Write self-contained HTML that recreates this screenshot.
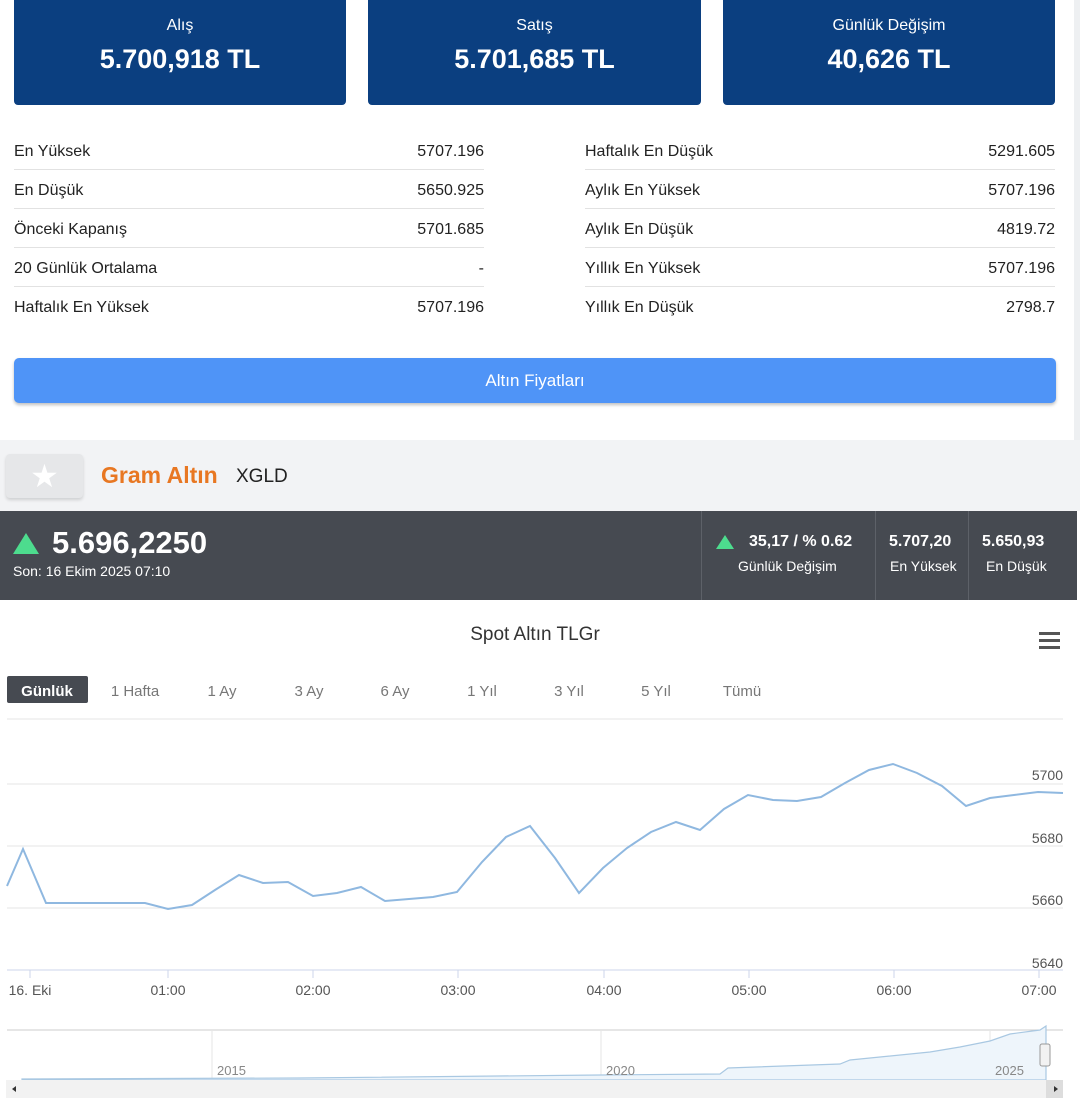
<!DOCTYPE html>
<html><head><meta charset="utf-8"><style>
*{margin:0;padding:0;box-sizing:border-box}
body{width:1080px;height:1109px;background:#fff;font-family:"Liberation Sans",sans-serif;position:relative;overflow:hidden;color:#222}
.card{position:absolute;top:0;height:105px;background:#0b3f80;border-radius:0 0 4px 4px;color:#fff;text-align:center}
.card .l{font-size:16px;margin-top:17px}
.card .v{font-size:27px;font-weight:bold;margin-top:9px}
.row{position:absolute;height:39px;font-size:16px;display:flex;justify-content:space-between;align-items:center;padding-top:3px;border-bottom:1px solid #e2e2e2}
.t{position:absolute;white-space:nowrap}
</style></head><body>
<div style="position:absolute;left:1074px;top:0;width:6px;height:440px;background:#eef0f2"></div>
<div class="card" style="left:14px;width:332px"><div class="l">Alış</div><div class="v">5.700,918 TL</div></div>
<div class="card" style="left:368px;width:333px"><div class="l">Satış</div><div class="v">5.701,685 TL</div></div>
<div class="card" style="left:723px;width:332px"><div class="l">Günlük Değişim</div><div class="v">40,626 TL</div></div>

<div class="row" style="left:14px;width:470px;top:131px"><span>En Yüksek</span><span>5707.196</span></div>
<div class="row" style="left:14px;width:470px;top:170px"><span>En Düşük</span><span>5650.925</span></div>
<div class="row" style="left:14px;width:470px;top:209px"><span>Önceki Kapanış</span><span>5701.685</span></div>
<div class="row" style="left:14px;width:470px;top:248px"><span>20 Günlük Ortalama</span><span>-</span></div>
<div class="row" style="left:14px;width:470px;top:287px;border:none"><span>Haftalık En Yüksek</span><span>5707.196</span></div>
<div class="row" style="left:585px;width:470px;top:131px"><span>Haftalık En Düşük</span><span>5291.605</span></div>
<div class="row" style="left:585px;width:470px;top:170px"><span>Aylık En Yüksek</span><span>5707.196</span></div>
<div class="row" style="left:585px;width:470px;top:209px"><span>Aylık En Düşük</span><span>4819.72</span></div>
<div class="row" style="left:585px;width:470px;top:248px"><span>Yıllık En Yüksek</span><span>5707.196</span></div>
<div class="row" style="left:585px;width:470px;top:287px;border:none"><span>Yıllık En Düşük</span><span>2798.7</span></div>

<div style="position:absolute;left:14px;top:358px;width:1042px;height:45px;background:#4f94f7;border-radius:5px;box-shadow:0 2px 3px rgba(0,0,0,.25);color:#fff;font-size:17px;text-align:center;line-height:45px">Altın Fiyatları</div>

<div style="position:absolute;left:0;top:440px;width:1080px;height:71px;background:#f2f3f5"></div>
<div style="position:absolute;left:6px;top:454px;width:77px;height:44px;background:#e6e7e9;border-radius:4px;box-shadow:0 2px 3px rgba(0,0,0,.15);color:#fff;font-size:32px;text-align:center;line-height:44px">★</div>
<div class="t" style="left:101px;top:462px;font-size:23px;font-weight:bold;color:#e87722">Gram Altın</div>
<div class="t" style="left:236px;top:466px;font-size:19px;color:#222">XGLD</div>

<div style="position:absolute;left:0;top:511px;width:1077px;height:89px;background:#464a51;color:#fff">
<div style="position:absolute;left:13px;top:22px;width:0;height:0;border-left:13px solid transparent;border-right:13px solid transparent;border-bottom:21px solid #4ddc8e"></div>
<div class="t" style="left:52px;top:14px;font-size:31px;font-weight:bold">5.696,2250</div>
<div class="t" style="left:13px;top:52px;font-size:14px">Son: 16 Ekim 2025 07:10</div>
<div style="position:absolute;left:701px;top:0;width:1px;height:89px;background:#5d6168"></div>
<div style="position:absolute;left:875px;top:0;width:1px;height:89px;background:#5d6168"></div>
<div style="position:absolute;left:968px;top:0;width:1px;height:89px;background:#5d6168"></div>
<div style="position:absolute;left:716px;top:24px;border-left:9px solid transparent;border-right:9px solid transparent;border-bottom:14px solid #4ddc8e"></div>
<div class="t" style="left:749px;top:22px;font-size:16px;font-weight:bold">35,17 / % 0.62</div>
<div class="t" style="left:738px;top:47px;font-size:14px">Günlük Değişim</div>
<div class="t" style="left:889px;top:22px;font-size:16px;font-weight:bold">5.707,20</div>
<div class="t" style="left:890px;top:47px;font-size:14px">En Yüksek</div>
<div class="t" style="left:982px;top:22px;font-size:16px;font-weight:bold">5.650,93</div>
<div class="t" style="left:986px;top:47px;font-size:14px">En Düşük</div>
</div>

<svg style="position:absolute;left:0;top:600px" width="1080" height="509" font-family="Liberation Sans, sans-serif">
<text x="535" y="40" text-anchor="middle" font-size="19" fill="#333">Spot Altın TLGr</text>
<g fill="#555"><rect x="1039" y="32" width="21" height="3"/><rect x="1039" y="39" width="21" height="3"/><rect x="1039" y="46" width="21" height="3"/></g>
<rect x="7" y="76" width="81" height="27" rx="2" fill="#464a51"/>
<text x="47" y="96" text-anchor="middle" font-size="15" font-weight="bold" fill="#fff">Günlük</text>
<g font-size="15" fill="#777" text-anchor="middle">
<text x="135" y="96">1 Hafta</text><text x="222" y="96">1 Ay</text><text x="309" y="96">3 Ay</text><text x="395" y="96">6 Ay</text><text x="482" y="96">1 Yıl</text><text x="569" y="96">3 Yıl</text><text x="656" y="96">5 Yıl</text><text x="742" y="96">Tümü</text></g>
<g stroke="#e6e6e6" stroke-width="1"><line x1="7" y1="119" x2="1063" y2="119"/><line x1="7" y1="184" x2="1063" y2="184"/><line x1="7" y1="246" x2="1063" y2="246"/><line x1="7" y1="308" x2="1063" y2="308"/></g>
<line x1="7" y1="370" x2="1063" y2="370" stroke="#ccd6eb"/>
<g font-size="14" fill="#555" text-anchor="end"><text x="1063" y="180">5700</text><text x="1063" y="243">5680</text><text x="1063" y="305">5660</text><text x="1063" y="368">5640</text></g>
<g stroke="#ccd6eb"><line x1="30" y1="370" x2="30" y2="378"/><line x1="168" y1="370" x2="168" y2="378"/><line x1="313" y1="370" x2="313" y2="378"/><line x1="458" y1="370" x2="458" y2="378"/><line x1="604" y1="370" x2="604" y2="378"/><line x1="749" y1="370" x2="749" y2="378"/><line x1="894" y1="370" x2="894" y2="378"/><line x1="1039" y1="370" x2="1039" y2="378"/></g>
<g font-size="14" fill="#555" text-anchor="middle"><text x="30" y="395">16. Eki</text><text x="168" y="395">01:00</text><text x="313" y="395">02:00</text><text x="458" y="395">03:00</text><text x="604" y="395">04:00</text><text x="749" y="395">05:00</text><text x="894" y="395">06:00</text><text x="1039" y="395">07:00</text></g>
<polyline fill="none" stroke="#8fb8e0" stroke-width="2" points="7,286 23,249 46,303 145,303 168,309 192,305 215,290 239,275 263,283 288,282 313,296 337,293 361,287 385,301 409,299 433,297 457,292 482,262 506,237 530,226 555,258 579,293 603,268 627,248 651,232 676,222 700,230 724,209 748,195 773,200 797,201 821,197 845,183 869,170 893,164 917,173 942,186 966,206 990,198 1014,195 1038,192 1063,193"/>
<line x1="7" y1="430" x2="1063" y2="430" stroke="#ccc"/>
<g stroke="#e6e6e6"><line x1="212" y1="430" x2="212" y2="480"/><line x1="601" y1="430" x2="601" y2="480"/><line x1="990" y1="430" x2="990" y2="480"/></g>
<path d="M22,479 L300,478 L600,475 L720,474 L728,468 L840,464 L850,460 L930,452 L960,447 L990,441 L1010,434 L1040,430 L1046,426 L1046,480 L22,480Z" fill="#eef5fb" stroke="#a9c8e2" stroke-width="1.2"/>
<g font-size="13" fill="#888"><text x="217" y="475">2015</text><text x="606" y="475">2020</text><text x="995" y="475">2025</text></g>
<rect x="1040" y="444" width="10" height="22" rx="2" fill="#f2f2f2" stroke="#999"/>
<rect x="6" y="480" width="1057" height="18" fill="#f2f2f2"/>
<rect x="1046" y="480" width="17" height="18" fill="#ddd"/>
<path d="M16,486 l-4,3 4,3z" fill="#333"/><path d="M1054,486 l4,3 -4,3z" fill="#333"/>
</svg>
</body></html>
